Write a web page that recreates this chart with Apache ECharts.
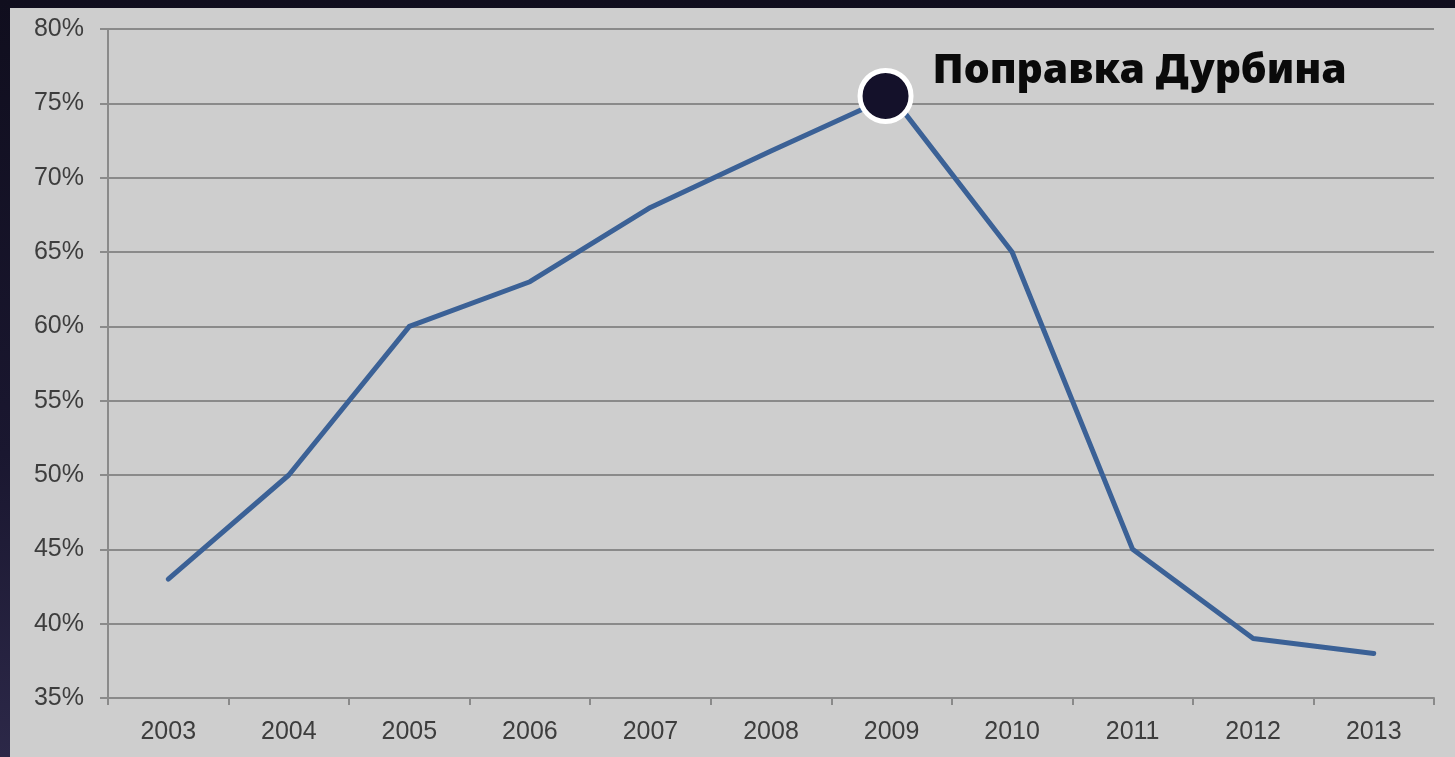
<!DOCTYPE html>
<html>
<head>
<meta charset="utf-8">
<script src="https://cdn.jsdelivr.net/npm/echarts@6/dist/echarts.min.js"></script>
<style>
  html, body { margin: 0; padding: 0; }
  body {
    width: 1455px; height: 757px; overflow: hidden;
    background: linear-gradient(to bottom, #100e1e 0%, #1a1730 60%, #2c2848 100%);
  }
  #panel {
    position: absolute; left: 10px; top: 8px; width: 1445px; height: 749px;
    background: #cecece;
  }
  #myChart { width: 1445px; height: 749px; }
</style>
</head>
<body>
<div id="panel"><div id="myChart"></div></div>
<script>
// chart data
var years = ['2003', '2004', '2005', '2006', '2007', '2008', '2009', '2010', '2011', '2012', '2013']
var shares = [43, 50, 60, 63, 68, 71.8, 75.5, 65, 45, 39, 38]
var markYear = '2009'
var markValue = 75.5
var markText = 'Поправка Дурбина'

var myChart = echarts.init(document.getElementById('myChart'))

var option = {
  animation: false,
  grid: { left: 98, right: 21, top: 21, bottom: 59 },
  xAxis: {
    type: 'category',
    data: years,
    boundaryGap: true,
    axisLine: { lineStyle: { color: '#8a8a8a', width: 2 } },
    axisTick: { show: true, length: 7, lineStyle: { color: '#8a8a8a', width: 2 } },
    axisLabel: { color: '#3d3d3d', fontSize: 25, fontFamily: 'Liberation Sans', margin: 22 }
  },
  yAxis: {
    type: 'value',
    min: 35,
    max: 80,
    interval: 5,
    axisLine: { show: true, lineStyle: { color: '#8a8a8a', width: 2 } },
    axisTick: { show: true, length: 8, lineStyle: { color: '#8a8a8a', width: 2 } },
    splitLine: { lineStyle: { color: '#8a8a8a', width: 2 } },
    axisLabel: { color: '#3d3d3d', fontSize: 25, fontFamily: 'Liberation Sans', margin: 24, formatter: '{value}%' }
  },
  series: [
    {
      type: 'line',
      data: shares,
      symbol: 'none',
      lineStyle: { color: '#3b6196', width: 5, cap: 'round', join: 'round' }
    },
    {
      type: 'scatter',
      data: [[markYear, markValue]],
      symbolSize: 51,
      symbolOffset: [-6, 0],
      itemStyle: { color: '#14112a', borderColor: '#ffffff', borderWidth: 5, opacity: 1 },
      label: {
        show: true,
        position: 'right',
        distance: 19,
        offset: [0, -25],
        formatter: markText,
        color: '#0a0a0a',
        fontSize: 41,
        fontWeight: 900,
        fontFamily: 'Noto Sans'
      },
      emphasis: { disabled: true },
      z: 5
    }
  ]
}

myChart.setOption(option)
</script>
</body>
</html>
